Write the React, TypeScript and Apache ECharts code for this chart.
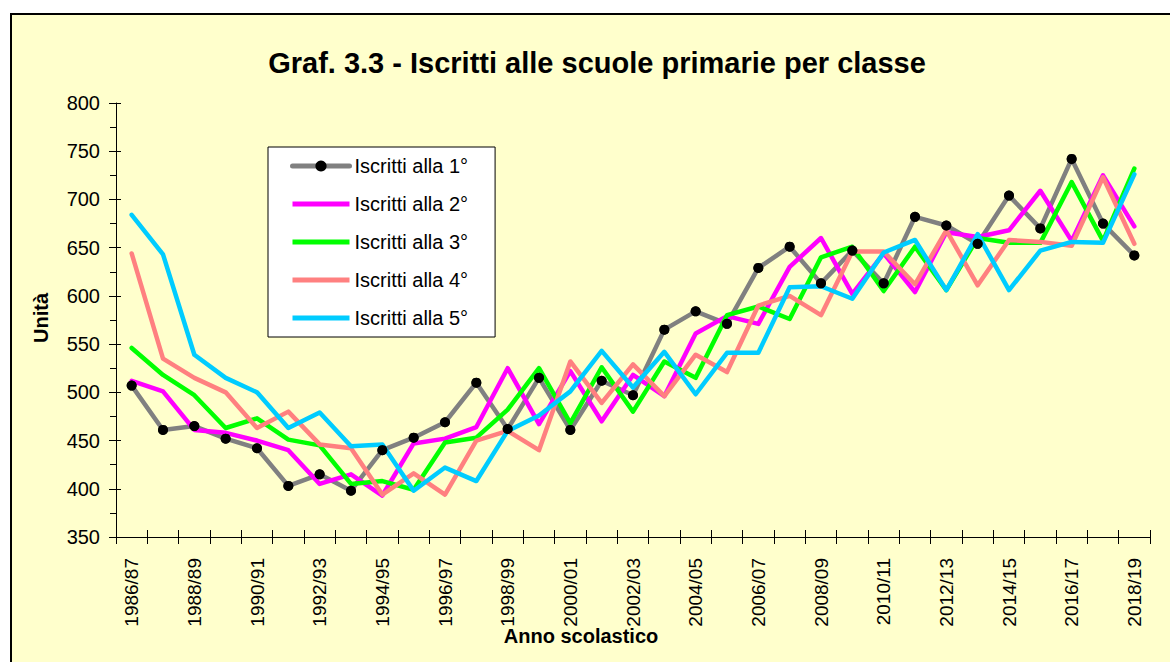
import React, { useEffect, useRef } from 'react';
import * as echarts from 'echarts';

const FONT = 'Arial, "Liberation Sans", sans-serif';

const titleText = 'Graf. 3.3 - Iscritti alle scuole primarie per classe';
const xAxisTitle = 'Anno scolastico';
const yAxisTitle = 'Unità';

const categories = [
  '1986/87', '1987/88', '1988/89', '1989/90', '1990/91', '1991/92', '1992/93', '1993/94',
  '1994/95', '1995/96', '1996/97', '1997/98', '1998/99', '1999/00', '2000/01', '2001/02',
  '2002/03', '2003/04', '2004/05', '2005/06', '2006/07', '2007/08', '2008/09', '2009/10',
  '2010/11', '2011/12', '2012/13', '2013/14', '2014/15', '2015/16', '2016/17', '2017/18',
  '2018/19',
];

const seriesNames = [
  'Iscritti alla 1°',
  'Iscritti alla 2°',
  'Iscritti alla 3°',
  'Iscritti alla 4°',
  'Iscritti alla 5°',
];

const classe1 = [507, 461, 465, 452, 442, 403, 415, 398, 440, 453, 469, 510, 462, 515, 461, 512, 497, 565, 584, 571, 629, 651, 613, 647, 613, 682, 673, 654, 704, 670, 742, 675, 642];
const classe2 = [512, 501, 461, 458, 450, 440, 405, 415, 393, 447, 452, 464, 525, 467, 522, 470, 518, 496, 561, 579, 571, 630, 660, 602, 644, 604, 666, 661, 668, 709, 657, 725, 672];
const classe3 = [546, 518, 497, 463, 473, 451, 445, 405, 408, 399, 448, 453, 482, 525, 468, 526, 480, 532, 515, 580, 589, 576, 640, 651, 605, 651, 606, 660, 655, 655, 718, 657, 732];
const classe4 = [644, 535, 515, 500, 463, 480, 446, 442, 394, 416, 394, 450, 460, 440, 532, 489, 529, 496, 539, 521, 590, 600, 580, 646, 646, 612, 668, 611, 658, 656, 652, 723, 654];
const classe5 = [684, 643, 539, 515, 500, 463, 479, 444, 446, 398, 422, 408, 460, 476, 501, 543, 505, 542, 498, 541, 541, 609, 610, 597, 645, 658, 606, 664, 606, 647, 656, 655, 726];

const allSeries = [classe1, classe2, classe3, classe4, classe5];
const lineColors = ['#808080', '#FF00FF', '#00FF00', '#FF8080', '#00CCFF'];

const LINE_ICON = 'path://M0,0 L57,0 L57,5 L0,5 Z';

export default function App() {
  const ref = useRef<HTMLDivElement>(null);

  useEffect(() => {
    document.body.style.margin = '0';
    const chart = echarts.init(ref.current as HTMLDivElement, null, { renderer: 'svg' });

    const lineSeries = allSeries.map((data, i) => ({
      name: seriesNames[i],
      type: 'line',
      data,
      symbol: i === 0 ? 'circle' : 'none',
      symbolSize: 10,
      showSymbol: i === 0,
      itemStyle: { color: i === 0 ? '#000000' : lineColors[i] },
      lineStyle: { color: lineColors[i], width: 4.5, cap: 'round', join: 'round' },
      z: 2,
      silent: true,
    }));

    const legendData = seriesNames.map((name, i) =>
      i === 0 ? { name } : { name, icon: LINE_ICON },
    );

    chart.setOption({
      animation: false,
      backgroundColor: '#ffffff',
      graphic: [
        {
          type: 'rect',
          z: -10,
          silent: true,
          shape: { x: 11, y: 14, width: 1170, height: 660 },
          style: { fill: '#FFFFCC', stroke: '#000000', lineWidth: 2 },
        },
        {
          type: 'text',
          x: 597,
          y: 63,
          style: {
            text: titleText,
            font: `bold 29px ${FONT}`,
            fill: '#000000',
            textAlign: 'center',
            textVerticalAlign: 'middle',
            align: 'center',
            verticalAlign: 'middle',
          },
        },
        {
          type: 'text',
          x: 41,
          y: 318,
          rotation: Math.PI / 2,
          style: {
            text: yAxisTitle,
            font: `bold 20px ${FONT}`,
            fill: '#000000',
            textAlign: 'center',
            textVerticalAlign: 'middle',
            align: 'center',
            verticalAlign: 'middle',
          },
        },
        {
          type: 'text',
          x: 581,
          y: 636,
          style: {
            text: xAxisTitle,
            font: `bold 20px ${FONT}`,
            fill: '#000000',
            textAlign: 'center',
            textVerticalAlign: 'middle',
            align: 'center',
            verticalAlign: 'middle',
          },
        },
      ],
      legend: {
        data: legendData,
        orient: 'vertical',
        left: 268,
        top: 147,
        padding: [9, 27, 9, 22],
        itemWidth: 57,
        itemHeight: 14,
        itemGap: 18,
        backgroundColor: '#ffffff',
        borderColor: '#000000',
        borderWidth: 1,
        selectedMode: false,
        symbolKeepAspect: true,
        lineStyle: { width: 5 },
        textStyle: { fontSize: 20, fontFamily: FONT, color: '#000000' },
      },
      grid: { left: 116, right: 20, top: 103, bottom: 125, containLabel: false },
      xAxis: [
        {
          type: 'category',
          data: categories,
          position: 'bottom',
          boundaryGap: true,
          axisLine: { show: true, lineStyle: { color: '#000000', width: 1 } },
          axisTick: { show: true, interval: 0, length: 7, alignWithLabel: false, lineStyle: { color: '#000000' } },
          axisLabel: { interval: 1, rotate: 90, margin: 21, fontSize: 19, fontFamily: FONT, color: '#000000' },
          splitLine: { show: false },
        },
        {
          type: 'category',
          data: categories,
          position: 'bottom',
          boundaryGap: true,
          axisLine: { show: false },
          axisTick: { show: true, inside: true, interval: 0, length: 7, lineStyle: { color: '#000000' } },
          axisLabel: { show: false },
          splitLine: { show: false },
        },
      ],
      yAxis: [
        {
          type: 'value',
          min: 350,
          max: 800,
          interval: 50,
          position: 'left',
          axisLine: { show: true, lineStyle: { color: '#000000', width: 1 } },
          axisTick: { show: true, length: 7, lineStyle: { color: '#000000' } },
          minorTick: { show: true, splitNumber: 2, length: 6, lineStyle: { color: '#000000' } },
          axisLabel: { margin: 16, fontSize: 20, fontFamily: FONT, color: '#000000' },
          splitLine: { show: false },
          minorSplitLine: { show: false },
        },
        {
          type: 'value',
          min: 350,
          max: 800,
          interval: 50,
          position: 'left',
          axisLine: { show: false },
          axisTick: { show: true, inside: true, length: 5, lineStyle: { color: '#000000' } },
          axisLabel: { show: false },
          splitLine: { show: false },
        },
      ],
      series: [
        ...lineSeries,
        {
          type: 'scatter',
          data: classe1,
          symbol: 'circle',
          symbolSize: 10,
          itemStyle: { color: '#000000' },
          z: 5,
          silent: true,
        },
      ],
    });

    return () => {
      chart.dispose();
    };
  }, []);

  return <div ref={ref} style={{ width: 1170, height: 662 }} />;
}
